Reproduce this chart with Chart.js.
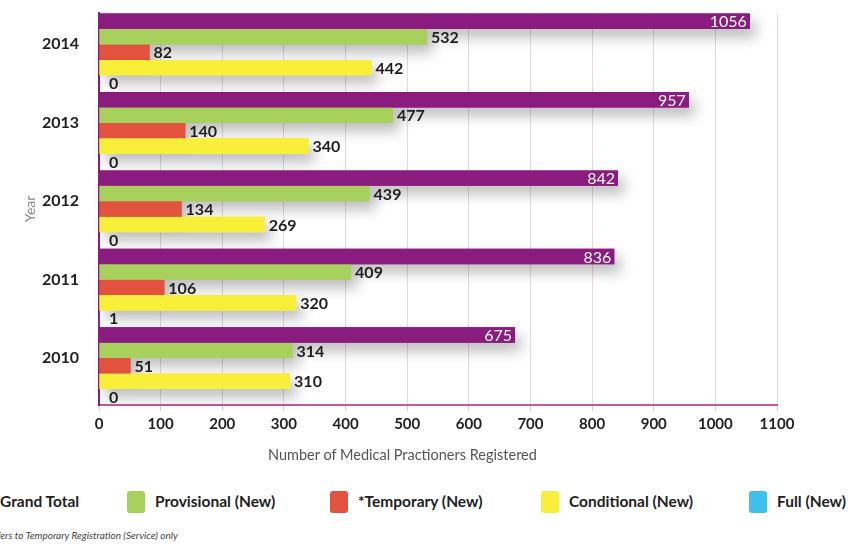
<!DOCTYPE html>
<html>
<head>
<meta charset="utf-8">
<script src="https://cdn.jsdelivr.net/npm/chart.js@4.4.1/dist/chart.umd.min.js"></script>
<style>
  html, body { margin: 0; padding: 0; background: #fff; }
  body { width: 864px; height: 546px; position: relative; overflow: hidden; font-family: Lato, sans-serif; }
  #wrap { position: absolute; left: 0; top: 0; width: 864px; height: 470px; }
  #xtitle { position: absolute; left: 268px; top: 446px; font-size: 14.5px; color: #555; white-space: nowrap; }
  .key { position: absolute; top: 491px; width: 18px; height: 22px; border-radius: 3px; }
  .lbl { position: absolute; top: 492px; font-size: 15.5px; font-weight: bold; color: #222; white-space: nowrap; }
  #note { position: absolute; left: -17px; top: 529px; font-size: 10px; font-style: italic; color: #444; white-space: nowrap; }
</style>
</head>
<body>
<div id="wrap"><canvas id="chart"></canvas></div>
<div id="xtitle">Number of Medical Practioners Registered</div>
<div id="legend"></div>
<div id="note">*Refers to Temporary Registration (Service) only</div>
<script>
const years = ['2014', '2013', '2012', '2011', '2010'];

const grandTotal  = [1056, 957, 842, 836, 675];
const provisional = [532, 477, 439, 409, 314];
const temporary   = [82, 140, 134, 106, 51];
const conditional = [442, 340, 269, 320, 310];
const full        = [0, 0, 0, 1, 0];

const seriesNames  = ['Grand Total', 'Provisional (New)', '*Temporary (New)', 'Conditional (New)', 'Full (New)'];
const seriesColors = ['#8b1c7f', '#a7d05d', '#e2533f', '#f8ef3b', '#3ec0ee'];
const seriesData   = [grandTotal, provisional, temporary, conditional, full];

const xTicks = [0, 100, 200, 300, 400, 500, 600, 700, 800, 900, 1000, 1100];

// legend keys sit at fixed x positions, the first one runs off the left edge
const legendX = [-28, 127, 330, 541, 749];
const legend = document.getElementById('legend');
seriesNames.forEach((name, i) => {
    const key = document.createElement('div');
    key.className = 'key';
    key.style.left = legendX[i] + 'px';
    key.style.background = seriesColors[i];
    legend.appendChild(key);
    const lbl = document.createElement('div');
    lbl.className = 'lbl';
    lbl.style.left = (legendX[i] + 28) + 'px';
    lbl.textContent = name;
    legend.appendChild(lbl);
});

// grey drop shadow under every bar, painted before the bars themselves
const barShadow = {
    id: 'barShadow',
    beforeDatasetsDraw(chart) {
        const ctx = chart.ctx;
        ctx.save();
        ctx.shadowColor = 'rgba(0, 0, 0, 0.28)';
        ctx.shadowBlur = 14;
        ctx.shadowOffsetX = 6;
        ctx.shadowOffsetY = 8;
        chart.data.datasets.forEach((ds, i) => {
            chart.getDatasetMeta(i).data.forEach(bar => bar.draw(ctx));
        });
        ctx.restore();
    }
};

// value labels: white inside the total bar, black bold after the others
const valueLabels = {
    id: 'valueLabels',
    afterDatasetsDraw(chart) {
        const ctx = chart.ctx;
        const x0 = chart.scales.x.getPixelForValue(0);
        ctx.save();
        ctx.textBaseline = 'middle';
        chart.data.datasets.forEach((ds, i) => {
            chart.getDatasetMeta(i).data.forEach((bar, j) => {
                const v = ds.data[j];
                if (i === 0) {
                    ctx.font = '16px Lato';
                    ctx.fillStyle = '#fff';
                    ctx.textAlign = 'right';
                    ctx.fillText(v, bar.x - 3, bar.y + 1);
                } else {
                    ctx.font = 'bold 16px Lato';
                    ctx.fillStyle = '#1e1e1e';
                    ctx.textAlign = 'left';
                    const x = v < 5 ? x0 + 10 : bar.x + 4;
                    ctx.fillText(v, x, bar.y + 1);
                }
            });
        });
        ctx.restore();
    }
};

const data = {
    labels: years,
    datasets: seriesData.map((vals, i) => ({
        label: seriesNames[i],
        data: vals,
        backgroundColor: seriesColors[i],
        categoryPercentage: 0.985,
        barPercentage: 1.0
    }))
};

const options = {
    indexAxis: 'y',
    responsive: true,
    maintainAspectRatio: false,
    animation: false,
    layout: {
        padding: { left: 18, right: 87, top: 13, bottom: 0 }
    },
    scales: {
        x: {
            min: 0,
            max: 1100,
            afterBuildTicks: (scale) => { scale.ticks = xTicks.map(v => ({ value: v })); },
            afterFit: (scale) => { scale.height = 65; },
            grid: {
                color: '#e6d8e3',
                lineWidth: 1,
                tickLength: 6,
                tickColor: '#e0c6da'
            },
            border: { color: '#c4589c', width: 2 },
            ticks: {
                color: '#222',
                padding: 4,
                callback: (v) => String(v),
                font: { family: 'Lato', size: 15, weight: 'bold' }
            }
        },
        y: {
            afterFit: (scale) => {
                scale.width = 81;
                scale.paddingTop = 0;
                scale.paddingBottom = 0;
            },
            grid: { display: false },
            border: { color: '#8b1c7f', width: 2 },
            ticks: {
                color: '#222',
                padding: 12,
                labelOffset: -8,
                font: { family: 'Lato', size: 16, weight: 'bold' }
            },
            title: {
                display: true,
                text: 'Year',
                color: '#8a8a8a',
                padding: { top: 4, bottom: 0 },
                font: { family: 'Lato', size: 14 }
            }
        }
    },
    plugins: {
        legend: { display: false },
        tooltip: { enabled: false }
    }
};

const ctx = document.getElementById('chart').getContext('2d');
const barChart = new Chart(ctx, {
    type: 'bar',
    data: data,
    options: options,
    plugins: [barShadow, valueLabels]
});
</script>
</body>
</html>
